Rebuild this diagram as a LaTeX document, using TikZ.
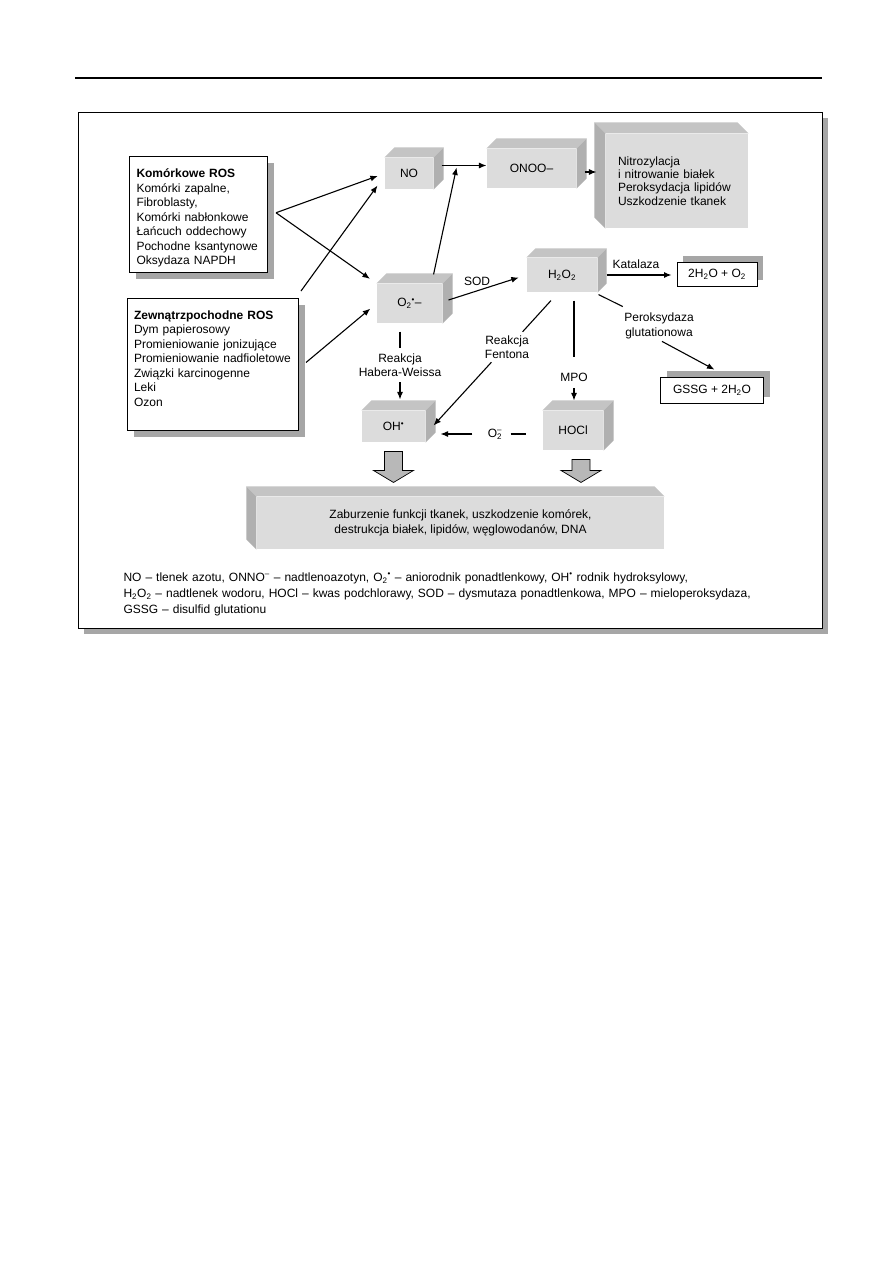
\documentclass[tikz,border=0pt]{standalone}
\usepackage{fontspec}
\setmainfont{Liberation Sans}
\usetikzlibrary{arrows.meta, calc, shadows}
\definecolor{cfront}{HTML}{DCDCDC}
\definecolor{ctop}{HTML}{C4C4C4}
\definecolor{cside}{HTML}{B0B0B0}
\definecolor{cshadow}{HTML}{A6A6A6}
\definecolor{cfat}{HTML}{B8B8B8}
\tikzset{
  every picture/.style={line width=1.1pt},
  txt/.style={font=\fontsize{12}{14.5}\selectfont},
  panel/.style={draw, fill=white, line width=1pt, general shadow={fill=cshadow, shadow xshift=6pt, shadow yshift=-6pt}},
  cube/.style={fill=cfront, inner sep=0pt, txt},
  srcbox/.style={draw, fill=white, line width=1pt, align=left, anchor=north west, inner ysep=6pt, txt,
    general shadow={fill=cshadow, shadow xshift=6pt, shadow yshift=-6pt}},
  resbox/.style={draw, fill=white, line width=1pt, inner sep=0pt, txt,
    general shadow={fill=cshadow, shadow xshift=6pt, shadow yshift=6pt}},
  lbl/.style={txt, align=center, inner sep=0pt},
  notes/.style={font=\fontsize{12}{16}\selectfont, anchor=north west, text width=720pt, align=left, inner sep=0pt},
  arrow/.style={-{Latex[length=7.5pt, width=6pt]}},
  fat/.style={fill=cfat, draw=black, line width=0.7pt},
}

\begin{document}
\begin{tikzpicture}[x=1pt, y=-1pt]
  \useasboundingbox (0,0) rectangle (893,1263);
  \draw (75,78) -- (822,78);
  \draw[panel] (78,112) rectangle (822,628);

  % sources of ROS
  \node[srcbox, text width=124pt, inner xsep=7pt] (kom) at (129,156) {\rule{0pt}{15pt}\textbf{Komórkowe ROS}\\ Komórki zapalne,\\ Fibroblasty,\\ Komórki nabłonkowe\\ Łańcuch oddechowy\\ Pochodne ksantynowe\\ Oksydaza NAPDH};
  \node[srcbox, text width=158pt, inner xsep=6.5pt] (zew) at (127,298) {\rule{0pt}{14.5pt}\textbf{Zewnątrzpochodne ROS}\\ Dym papierosowy\\ Promieniowanie jonizujące\\ Promieniowanie nadfioletowe\\ Związki karcinogenne\\ Leki\\ Ozon\rule[-18.5pt]{0pt}{0pt}};

  % reactive species
  \node[cube, minimum width=48pt, minimum height=31pt] (no) at (409,173.5) {NO};
  \node[cube, minimum width=89pt, minimum height=39pt] (onoo) at (531.5,168.5) {ONOO–};
  \node[cube, minimum width=142pt, minimum height=94pt, text width=118pt, align=left, font=\fontsize{12}{13.2}\selectfont] (effects) at (677,181) {Nitrozylacja\\ i nitrowanie białek\\ Peroksydacja lipidów\\ Uszkodzenie tkanek};
  \node[cube, minimum width=65pt, minimum height=39pt] (o2) at (409.5,303.5) {O\textsubscript{2}\textsuperscript{•}–};
  \node[cube, minimum width=70pt, minimum height=34pt] (h2o2) at (562,275) {H\textsubscript{2}O\textsubscript{2}};
  \node[cube, minimum width=63pt, minimum height=31pt] (oh) at (393.5,426.5) {OH\textsuperscript{•}};
  \node[cube, minimum width=60pt, minimum height=39pt] (hocl) at (573,430.5) {HOCl};
  \node[cube, minimum width=407pt, minimum height=52pt, align=center] (zab) at (460.5,523) {Zaburzenie funkcji tkanek, uszkodzenie komórek,\\ destrukcja białek, lipidów, węglowodanów, DNA};

  % products
  \node[resbox, minimum width=80pt, minimum height=24pt] (kat) at (717,274) {2H\textsubscript{2}O + O\textsubscript{2}};
  \node[resbox, minimum width=103pt, minimum height=26pt] (gssg) at (712,390) {GSSG + 2H\textsubscript{2}O};

  % enzymes and reactions
  \node[lbl] (sod) at (477,281) {SOD};
  \node[lbl] (katalaza) at (636,264) {Katalaza};
  \node[lbl] (perox) at (659,326) {Peroksydaza\\ glutationowa};
  \node[lbl] (habera) at (400,365) {Reakcja\\ Habera-Weissa};
  \node[lbl] (fenton) at (507,347) {Reakcja\\ Fentona};
  \node[lbl] (mpo) at (574,377) {MPO};
  \node[lbl] (o2m) at (495,434) {O\rlap{\textsubscript{2}}\textsuperscript{–}};

  % 3D faces
  \foreach \b/\d in {no/10, onoo/10, o2/10, h2o2/9, oh/10, hocl/10} {
    \fill[ctop] (\b.north west) -- ++(\d,-\d) -- ($(\b.north east)+(\d,-\d)$) -- (\b.north east) -- cycle;
    \fill[cside] (\b.north east) -- ++(\d,-\d) -- ($(\b.south east)+(\d,-\d)$) -- (\b.south east) -- cycle;
  }
  \foreach \b/\d in {effects/11, zab/10} {
    \fill[ctop] (\b.north east) -- ++(-\d,-\d) -- ($(\b.north west)+(-\d,-\d)$) -- (\b.north west) -- cycle;
    \fill[cside] (\b.north west) -- ++(-\d,-\d) -- ($(\b.south west)+(-\d,-\d)$) -- (\b.south west) -- cycle;
  }

  % connectors
  \coordinate (kfork) at ($(kom.east)+(8,-2)$);
  \coordinate (nojoin) at ($(no.east)+(23,-6)$);
  \draw[arrow, shorten >=7pt] (kfork) -- (no.west);
  \draw[arrow, shorten >=8pt] (kfork) -- (o2.north west);
  \draw[arrow, shorten >=5pt] ($(zew.north east)+(2,-7)$) -- ($(no.west)+(-4,8)$);
  \draw[arrow, shorten >=8pt] ($(zew.east)+(7,-2)$) -- (o2.west);
  \draw[arrow] ($(no.east)+(8,-8)$) -- ($(onoo.west)+(0,-3)$);
  \draw[arrow] ($(o2.north east)+(-9,-9)$) -- (nojoin);
  \draw[arrow] ($(onoo.east)+(8,3.5)$) -- ($(effects.west)+(-9,-9)$);
  \draw[arrow, shorten >=8pt] ($(o2.east)+(6,-3.5)$) -- (h2o2.west);
  \draw[arrow, shorten >=5pt] ($(h2o2.east)+(9,0)$) -- (kat.west |- h2o2.east);
  \draw ($(h2o2.south east)+(1,2)$) -- ($(perox.north west)+(-1,-6)$);
  \draw[arrow, shorten >=4pt] ($(perox.south)+(3,2)$) -- ($(gssg.north)+(6,-5)$);
  \draw ($(o2.south -| habera)+(0,8)$) -- ($(habera.north)+(0,-5)$);
  \draw[arrow] ($(habera.south)+(0,5)$) -- ($(oh.north -| habera)+(0,-11)$);
  \draw ($(h2o2.south)+(-11,8)$) -- ($(fenton.north east)+(-7,-3)$);
  \draw[arrow] ($(fenton.south west)+(7,3)$) -- ($(oh.east)+(8,-1)$);
  \draw ($(h2o2.south -| mpo)+(0,8)$) -- ($(mpo.north)+(0,-15)$);
  \draw[arrow] ($(mpo.south)+(0,6)$) -- ($(hocl.north -| mpo)+(0,-10)$);
  \draw ($(o2m.east)+(8,0)$) -- ($(hocl.west |- o2m.east)+(-16,0)$);
  \draw[arrow] ($(o2m.west)+(-15,0)$) -- ($(oh.east |- o2m.west)+(15,0)$);

  % damage arrows
  \foreach \b/\dx in {oh/0pt, hocl/8pt}
    \draw[fat] let \p1=(\b.south), \p2=(zab.north) in
      (\x1+\dx-9pt,\y1-9pt) -- (\x1+\dx+9pt,\y1-9pt) -- (\x1+\dx+9pt,\y2+26pt) -- (\x1+\dx+20pt,\y2+26pt)
      -- (\x1+\dx,\y2+14pt) -- (\x1+\dx-20pt,\y2+26pt) -- (\x1+\dx-9pt,\y2+26pt) -- cycle;

  \node[notes] (legend) at (123,572) {NO – tlenek azotu, ONNO\textsuperscript{–} – nadtlenoazotyn, O\textsubscript{2}\textsuperscript{•} – aniorodnik ponadtlenkowy, OH\textsuperscript{•} rodnik hydroksylowy,\\ H\textsubscript{2}O\textsubscript{2} – nadtlenek wodoru, HOCl – kwas podchlorawy, SOD – dysmutaza ponadtlenkowa, MPO – mieloperoksydaza,\\ GSSG – disulfid glutationu};
\end{tikzpicture}
\end{document}
